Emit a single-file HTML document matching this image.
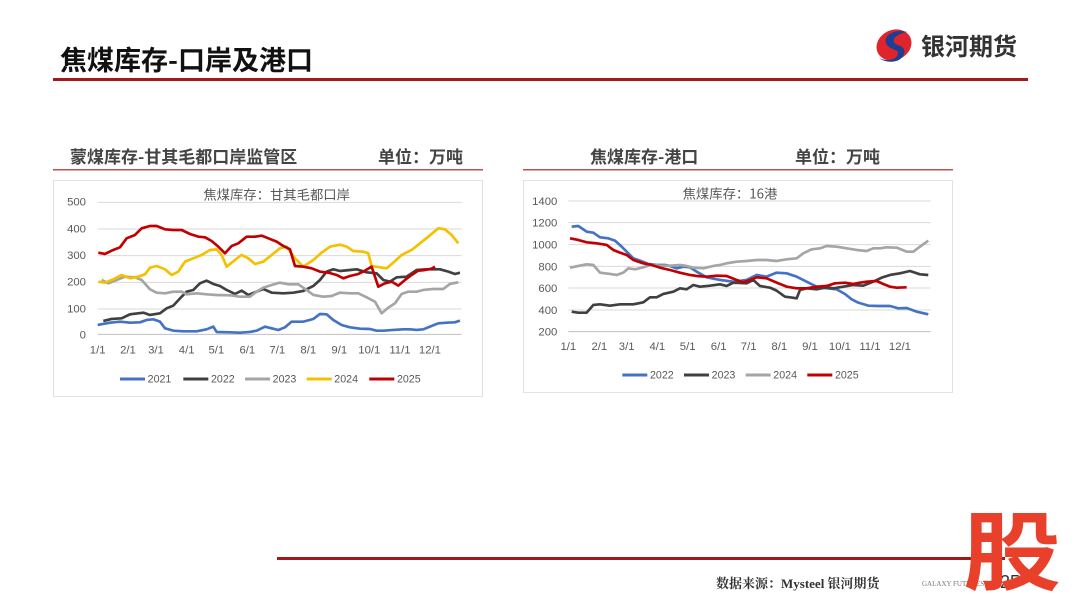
<!DOCTYPE html>
<html><head><meta charset="utf-8"><style>
html,body{margin:0;padding:0;background:#fff;}
svg{display:block;}
</style></head><body>
<svg width="1080" height="608" viewBox="0 0 1080 608" xmlns="http://www.w3.org/2000/svg" font-family="Liberation Sans, Noto Sans CJK SC, sans-serif">
<rect width="1080" height="608" fill="#fff"/>
<!-- header -->
<text x="60" y="70" font-size="27" font-weight="bold" fill="#111" font-family="Noto Sans CJK SC, sans-serif">焦煤库存-口岸及港口</text>
<rect x="53" y="78" width="975" height="3" fill="#a3191b"/>
<!-- logo -->
<g transform="translate(875,28)">
<ellipse cx="19" cy="17" rx="18" ry="15" fill="#e0242b" transform="rotate(-25 19 17)"/>
<path d="M32 4 C20 0 6 8 12 17 C17 23 26 21 22 28 C19 33 10 33 4 30 C12 36 26 35 29 26 C32 17 20 18 19 14 C17 9 26 5 32 4Z" fill="#1c3f94"/>
</g>
<text x="921" y="55" font-size="24" font-weight="bold" fill="#333" font-family="Noto Sans CJK SC, sans-serif">银河期货</text>

<!-- left section -->
<text x="70" y="163" font-size="17" font-weight="bold" fill="#444" font-family="Noto Sans CJK SC, sans-serif">蒙煤库存-甘其毛都口岸监管区</text>
<text x="378" y="163" font-size="17" font-weight="bold" fill="#444" font-family="Noto Sans CJK SC, sans-serif">单位：万吨</text>
<rect x="53" y="169" width="430" height="1.5" fill="#c0504d"/>
<rect x="53.5" y="180.5" width="429" height="216" fill="#fff" stroke="#e2e2e2"/>
<g transform="translate(50,140) scale(0.3333)">
<g stroke="#d9d9d9" stroke-width="3">
<line x1="143" y1="187" x2="1235" y2="187"/><line x1="143" y1="267" x2="1235" y2="267"/><line x1="143" y1="347" x2="1235" y2="347"/><line x1="143" y1="427" x2="1235" y2="427"/><line x1="143" y1="507" x2="1235" y2="507"/>
</g>
<line x1="143" y1="583" x2="1235" y2="583" stroke="#bfbfbf" stroke-width="3"/>
<g font-size="34" fill="#595959" text-anchor="end">
<text x="108" y="197">500</text><text x="108" y="277">400</text><text x="108" y="357">300</text><text x="108" y="437">200</text><text x="108" y="517">100</text><text x="108" y="595">0</text>
</g>
<g font-size="34" fill="#595959" text-anchor="middle">
<text x="143" y="640">1/1</text><text x="234" y="640">2/1</text><text x="318" y="640">3/1</text><text x="410" y="640">4/1</text><text x="499" y="640">5/1</text><text x="592" y="640">6/1</text><text x="682" y="640">7/1</text><text x="775" y="640">8/1</text><text x="868" y="640">9/1</text><text x="958" y="640">10/1</text><text x="1050" y="640">11/1</text><text x="1140" y="640">12/1</text>
</g>
<text x="680" y="178" font-size="40" fill="#595959" text-anchor="middle" font-family="Noto Sans CJK SC, sans-serif">焦煤库存：甘其毛都口岸</text>
<g fill="none" stroke-width="8" stroke-linejoin="round">
<polyline stroke="#4472c4" points="143,555 180,548 210,545 240,548 270,547 290,540 310,538 330,545 345,565 370,572 400,574 440,574 470,568 490,560 500,576 540,577 570,578 600,576 620,572 645,560 665,565 685,570 705,562 725,545 760,545 790,537 810,522 830,523 850,540 875,555 900,562 930,566 960,567 980,572 1000,572 1030,570 1060,568 1080,568 1100,570 1120,568 1140,560 1165,550 1190,548 1215,547 1230,542"/>
<polyline stroke="#404040" points="160,543 185,537 215,535 240,523 280,518 300,525 330,520 350,505 370,497 395,470 410,455 430,450 450,430 470,422 490,432 510,438 530,450 555,462 575,452 595,465 620,455 640,447 665,458 700,460 730,458 760,453 790,438 810,420 830,395 850,388 870,393 900,390 920,388 950,397 980,400 1000,420 1020,425 1040,412 1070,410 1100,390 1130,388 1170,388 1195,395 1215,402 1230,398"/>
<polyline stroke="#a5a5a5" points="155,420 175,430 200,420 225,410 255,412 275,420 300,448 320,458 345,460 370,455 395,455 410,463 440,460 470,463 500,465 540,466 570,470 600,470 620,455 640,443 665,435 690,428 715,433 745,433 770,450 790,465 820,470 845,468 870,458 900,460 925,460 950,472 975,485 995,520 1015,503 1035,490 1055,462 1075,455 1100,455 1120,450 1150,447 1180,447 1200,432 1225,427"/>
<polyline stroke="#f5c000" points="145,425 165,428 190,418 215,405 240,415 265,410 285,403 300,383 320,378 345,388 365,405 385,395 405,365 430,355 455,345 480,330 500,328 515,345 530,380 555,360 575,345 595,355 615,372 640,365 665,345 690,325 710,320 735,355 760,380 790,360 815,338 840,320 870,314 890,320 910,333 940,335 955,340 965,378 990,382 1010,385 1030,368 1055,345 1085,330 1110,310 1135,290 1165,265 1185,268 1205,285 1225,310"/>
<polyline stroke="#c00000" points="145,338 165,342 185,332 210,322 230,295 255,285 275,265 300,258 320,258 345,268 370,270 395,270 420,282 445,290 465,292 485,303 505,320 525,340 545,318 565,310 590,290 615,290 635,287 655,295 680,305 700,318 720,328 735,378 760,380 785,385 810,395 835,398 860,405 880,415 900,408 925,402 945,392 965,380 985,440 1005,430 1025,425 1045,437 1065,420 1085,405 1105,392 1125,390 1145,386 1155,380"/>
</g>
<g stroke-width="9">
<line x1="210" y1="717" x2="285" y2="717" stroke="#4472c4"/>
<line x1="400" y1="717" x2="475" y2="717" stroke="#404040"/>
<line x1="585" y1="717" x2="660" y2="717" stroke="#a5a5a5"/>
<line x1="770" y1="717" x2="845" y2="717" stroke="#f5c000"/>
<line x1="958" y1="717" x2="1033" y2="717" stroke="#c00000"/>
</g>
<g font-size="32" fill="#595959">
<text x="293" y="728">2021</text><text x="483" y="728">2022</text><text x="668" y="728">2023</text><text x="853" y="728">2024</text><text x="1041" y="728">2025</text>
</g>
</g>

<!-- right section -->
<text x="590" y="163" font-size="17" font-weight="bold" fill="#444" font-family="Noto Sans CJK SC, sans-serif">焦煤库存-港口</text>
<text x="795" y="163" font-size="17" font-weight="bold" fill="#444" font-family="Noto Sans CJK SC, sans-serif">单位：万吨</text>
<rect x="523" y="169" width="430" height="1.5" fill="#c0504d"/>
<rect x="523.5" y="180.5" width="429" height="212" fill="#fff" stroke="#e2e2e2"/>
<g transform="translate(520,140) scale(0.3333)">
<g stroke="#d9d9d9" stroke-width="3">
<line x1="145" y1="183" x2="1232" y2="183"/><line x1="145" y1="248" x2="1232" y2="248"/><line x1="145" y1="314" x2="1232" y2="314"/><line x1="145" y1="379" x2="1232" y2="379"/><line x1="145" y1="444" x2="1232" y2="444"/><line x1="145" y1="510" x2="1232" y2="510"/>
</g>
<line x1="145" y1="575" x2="1232" y2="575" stroke="#bfbfbf" stroke-width="3"/>
<g font-size="34" fill="#595959" text-anchor="end">
<text x="112" y="195">1400</text><text x="112" y="260">1200</text><text x="112" y="326">1000</text><text x="112" y="391">800</text><text x="112" y="456">600</text><text x="112" y="522">400</text><text x="112" y="587">200</text>
</g>
<g font-size="34" fill="#595959" text-anchor="middle">
<text x="145" y="630">1/1</text><text x="238" y="630">2/1</text><text x="320" y="630">3/1</text><text x="412" y="630">4/1</text><text x="503" y="630">5/1</text><text x="596" y="630">6/1</text><text x="686" y="630">7/1</text><text x="778" y="630">8/1</text><text x="870" y="630">9/1</text><text x="960" y="630">10/1</text><text x="1050" y="630">11/1</text><text x="1140" y="630">12/1</text>
</g>
<text x="630" y="175" font-size="40" fill="#595959" text-anchor="middle" font-family="Noto Sans CJK SC, sans-serif">焦煤库存：16港</text>
<g fill="none" stroke-width="8" stroke-linejoin="round">
<polyline stroke="#4472c4" points="155,260 175,258 200,275 220,278 240,292 265,295 285,302 305,320 325,340 340,355 360,362 385,372 410,375 435,375 450,378 470,385 490,380 510,382 530,395 560,412 600,420 640,425 680,420 710,405 740,410 770,398 800,400 830,410 860,425 890,440 920,445 950,448 975,462 995,478 1015,488 1045,497 1075,498 1110,498 1135,505 1160,504 1190,515 1225,523"/>
<polyline stroke="#404040" points="155,515 175,518 200,518 220,495 240,493 270,497 300,493 340,493 370,487 390,472 410,472 430,462 460,455 480,445 500,448 520,435 540,440 570,437 600,433 620,438 640,428 680,430 700,420 720,438 750,443 770,452 795,470 810,472 830,475 840,450 860,445 890,448 920,442 940,445 970,440 1000,435 1030,437 1060,425 1085,413 1110,405 1140,400 1170,393 1200,403 1225,405"/>
<polyline stroke="#a5a5a5" points="150,383 175,378 200,373 220,375 240,398 270,402 290,405 310,398 325,385 345,388 370,382 390,375 420,377 450,377 480,375 500,378 520,383 550,385 580,378 600,375 620,370 650,365 680,363 710,360 740,360 770,363 800,358 830,355 850,340 875,328 900,325 920,318 950,320 980,325 1010,330 1040,333 1060,325 1080,325 1100,322 1130,323 1160,335 1180,335 1200,320 1225,302"/>
<polyline stroke="#c00000" points="150,295 175,300 200,307 230,310 260,315 280,330 300,338 320,345 340,360 370,370 395,375 420,383 450,390 480,398 510,405 530,408 560,410 590,407 620,408 650,420 670,427 690,420 710,412 740,415 770,428 800,440 830,445 860,445 890,440 920,438 945,430 975,428 1000,432 1020,428 1040,425 1070,423 1090,432 1110,440 1130,443 1160,442"/>
</g>
<g stroke-width="9">
<line x1="307" y1="705" x2="382" y2="705" stroke="#4472c4"/>
<line x1="492" y1="705" x2="567" y2="705" stroke="#404040"/>
<line x1="677" y1="705" x2="752" y2="705" stroke="#a5a5a5"/>
<line x1="862" y1="705" x2="937" y2="705" stroke="#c00000"/>
</g>
<g font-size="32" fill="#595959">
<text x="390" y="716">2022</text><text x="575" y="716">2023</text><text x="760" y="716">2024</text><text x="945" y="716">2025</text>
</g>
</g>

<!-- footer -->
<rect x="277" y="557" width="728" height="3" fill="#a3191b"/>
<text x="716" y="588" font-size="13" font-weight="bold" fill="#333" font-family="Liberation Serif, Noto Serif CJK SC, serif">数据来源：Mysteel 银河期货</text>
<text x="922" y="586" font-size="7" fill="#777" font-family="Liberation Serif, serif">GALAXY FUTURES</text>
<text x="1000" y="588" font-size="18" fill="#333">25</text>
<text x="963" y="583" font-size="86" font-weight="bold" fill="#e8402a" font-family="Noto Sans CJK SC, sans-serif" textLength="98" lengthAdjust="spacingAndGlyphs">股</text>
</svg>
</body></html>
